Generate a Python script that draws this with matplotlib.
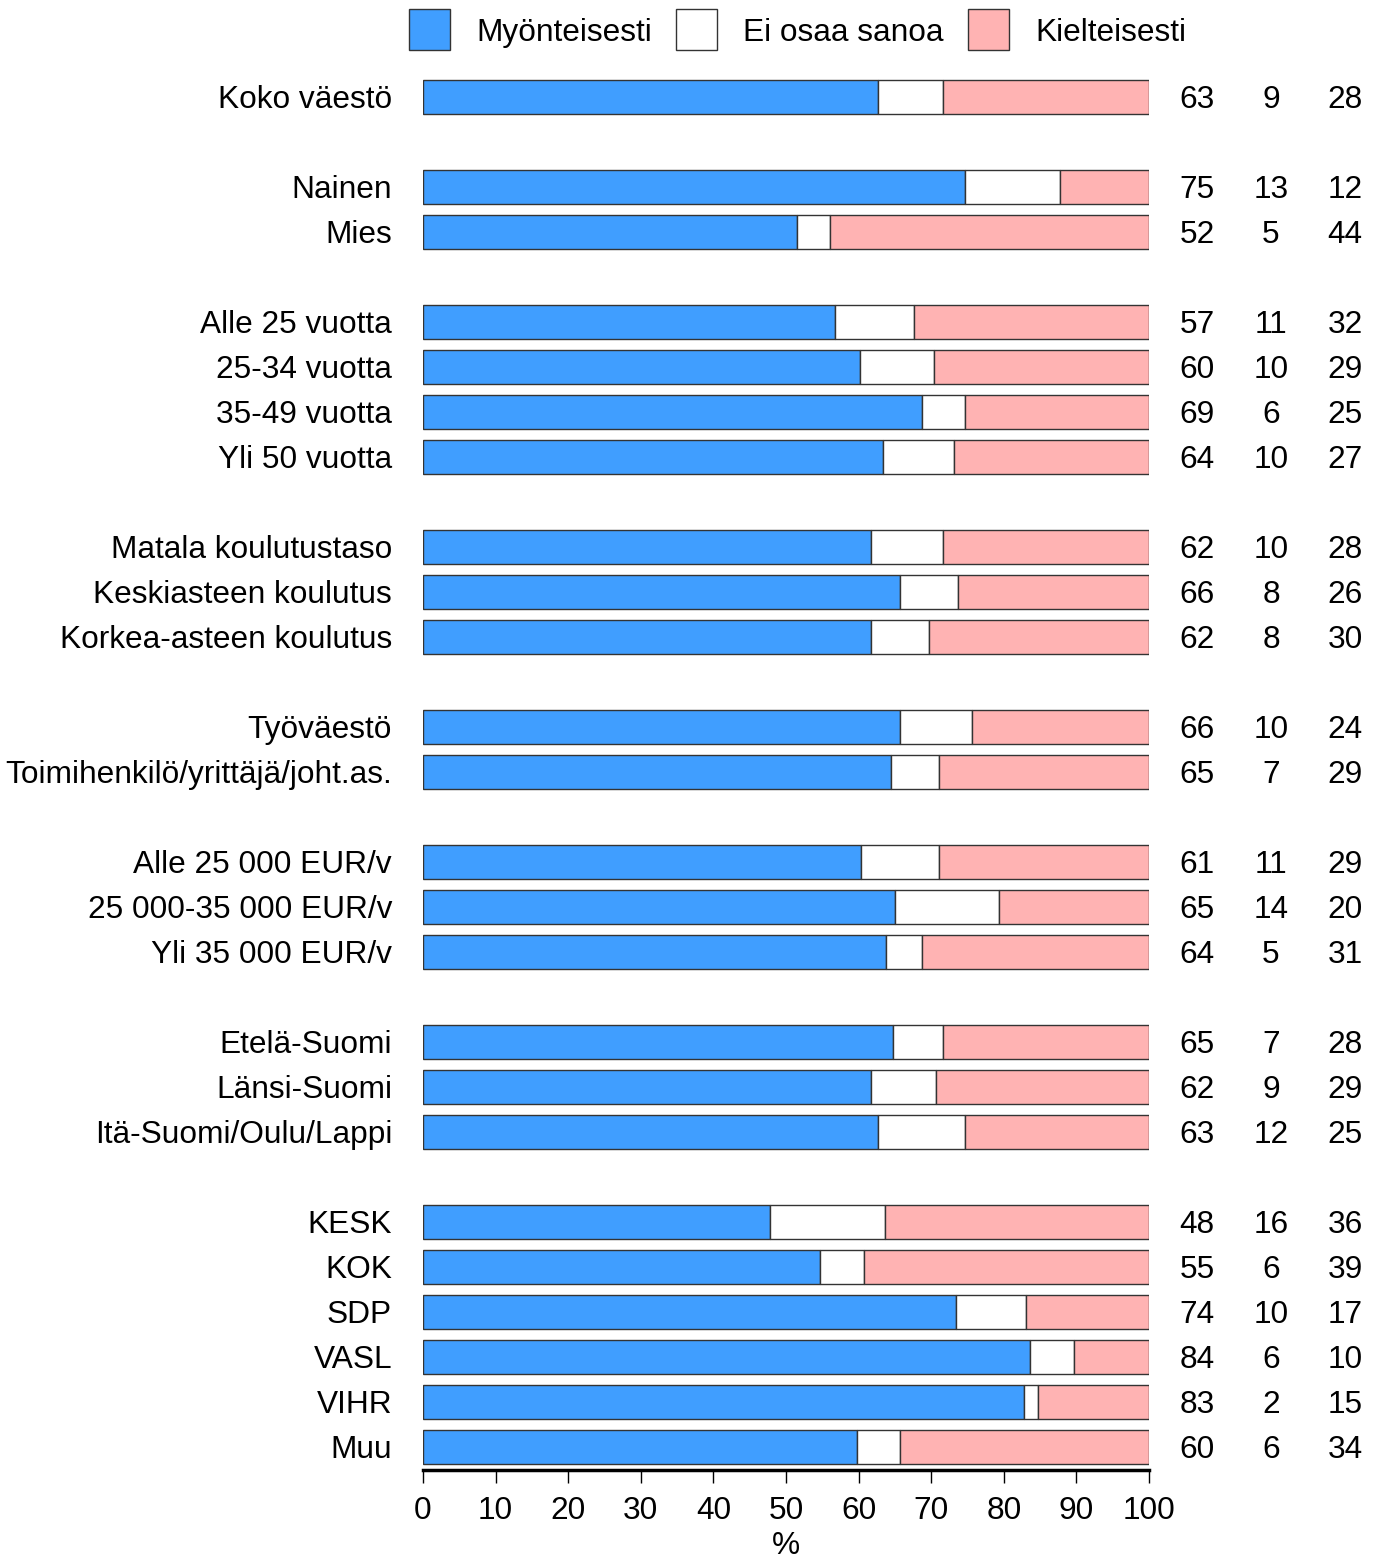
import numpy as np
import matplotlib
matplotlib.use('Agg')
import matplotlib.pyplot as plt
from matplotlib.patches import Rectangle
from matplotlib.transforms import blended_transform_factory

plt.rcParams['font.family'] = ['Liberation Sans', 'DejaVu Sans']

# row labels, in order top to bottom
groups = ['Koko väestö', 'Nainen', 'Mies',
          'Alle 25 vuotta', '25-34 vuotta', '35-49 vuotta', 'Yli 50 vuotta',
          'Matala koulutustaso', 'Keskiasteen koulutus', 'Korkea-asteen koulutus',
          'Työväestö', 'Toimihenkilö/yrittäjä/joht.as.',
          'Alle 25 000 EUR/v', '25 000-35 000 EUR/v', 'Yli 35 000 EUR/v',
          'Etelä-Suomi', 'Länsi-Suomi', 'Itä-Suomi/Oulu/Lappi',
          'KESK', 'KOK', 'SDP', 'VASL', 'VIHR', 'Muu']
# slot of each row (gaps between groups)
slots = [0, 2, 3, 5, 6, 7, 8, 10, 11, 12, 14, 15, 17, 18, 19, 21, 22, 23,
         25, 26, 27, 28, 29, 30]

# bar lengths (%)
myont = [62.7, 74.7, 51.5, 56.7, 60.2, 68.7, 63.4, 61.7, 65.7, 61.7, 65.7, 64.5,
         60.3, 65.0, 63.8, 64.7, 61.7, 62.7, 47.8, 54.7, 73.4, 83.6, 82.8, 59.8]
eos = [8.9, 13.0, 4.6, 10.9, 10.2, 6.0, 9.7, 9.9, 8.0, 8.0, 9.9, 6.6,
       10.8, 14.3, 4.9, 6.9, 9.0, 12.0, 15.8, 6.0, 9.7, 6.1, 1.9, 5.9]
kielt = [28.4, 12.3, 43.9, 32.4, 29.6, 25.3, 26.9, 28.4, 26.3, 30.3, 24.4, 28.9,
         28.9, 20.7, 31.3, 28.4, 29.3, 25.3, 36.4, 39.3, 16.9, 10.3, 15.3, 34.3]

# printed numbers
lab_myont = [63, 75, 52, 57, 60, 69, 64, 62, 66, 62, 66, 65, 61, 65, 64, 65, 62, 63,
             48, 55, 74, 84, 83, 60]
lab_eos = [9, 13, 5, 11, 10, 6, 10, 10, 8, 8, 10, 7, 11, 14, 5, 7, 9, 12,
           16, 6, 10, 6, 2, 6]
lab_kielt = [28, 12, 44, 32, 29, 25, 27, 28, 26, 30, 24, 29, 29, 20, 31, 28, 29, 25,
             36, 39, 17, 10, 15, 34]

series = ['Myönteisesti', 'Ei osaa sanoa', 'Kielteisesti']
colors = ['#409eff', '#ffffff', '#ffb3b3']

W, H = 1381, 1564
FS = 22.8
fig = plt.figure(figsize=(W / 100, H / 100), dpi=100)
ax = fig.add_axes([423 / W, 1 - 1470 / H, 726 / W, (1470 - 63) / H])

y = np.array(slots)
left = np.zeros(len(y))
for vals, col in zip([myont, eos, kielt], colors):
    ax.barh(y, vals, left=left, height=0.75, color=col, edgecolor='#333333',
            linewidth=1)
    left += np.array(vals)

ax.set_xlim(0, 100)
ax.set_ylim(30.51, -0.75)
ax.set_yticks([])
ax.set_xticks(np.arange(0, 101, 10))
for s in ['top', 'right', 'left']:
    ax.spines[s].set_visible(False)
ax.spines['bottom'].set_linewidth(2.5)
ax.tick_params(axis='x', direction='out', length=9, width=1, pad=10,
               labelsize=FS)
ax.set_xlabel('%', fontsize=FS, labelpad=3)

tr = blended_transform_factory(fig.transFigure, ax.transData)
dy = 0.07  # small downward nudge so text sits like the original
for yy, g, a, b, c in zip(y, groups, lab_myont, lab_eos, lab_kielt):
    ax.text(392 / W, yy + dy, g, transform=tr, ha='right', va='center', fontsize=FS)
    ax.text(1197 / W, yy + dy, str(a), transform=tr, ha='center', va='center', fontsize=FS)
    ax.text(1271 / W, yy + dy, str(b), transform=tr, ha='center', va='center', fontsize=FS)
    ax.text(1345 / W, yy + dy, str(c), transform=tr, ha='center', va='center', fontsize=FS)

# legend
for x0, name, col in zip([409, 676, 968], series, colors):
    fig.patches.append(Rectangle((x0 / W, 1 - 50 / H), 41 / W, 41 / H,
                                 transform=fig.transFigure, facecolor=col,
                                 edgecolor='#333333', linewidth=1))
    fig.text((x0 + 67) / W, 1 - 33 / H, name, ha='left', va='center', fontsize=FS)

fig.savefig('out.png', dpi=100)
